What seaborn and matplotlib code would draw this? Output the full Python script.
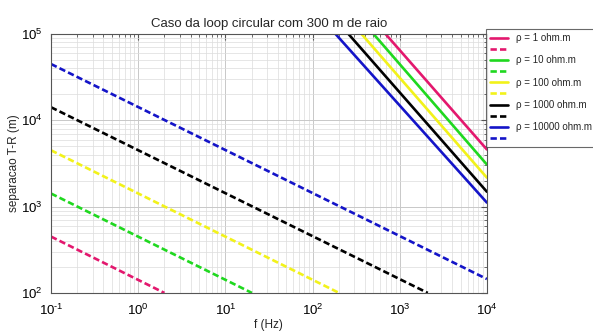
import matplotlib
matplotlib.use("Agg")
import matplotlib.pyplot as plt
from matplotlib.lines import Line2D
from matplotlib.ticker import LogLocator, FuncFormatter
import seaborn as sns
import pandas as pd
import numpy as np

# Resistivities and their colours
rho_labels = ["ρ = 1 ohm.m", "ρ = 10 ohm.m", "ρ = 100 ohm.m", "ρ = 1000 ohm.m", "ρ = 10000 ohm.m"]
palette = ["#e3186e", "#1fd81f", "#f2f21a", "#000000", "#1414c8"]

# Steep curves (endpoints, f in Hz, separation in m)
freq_steep = [[690, 10000], [502, 10000], [366, 10000], [259, 10000], [184, 10000]]
sep_steep = [[1e5, 4600], [1e5, 3080], [1e5, 2170], [1e5, 1490], [1e5, 1115]]

# Shallow curves
freq_shallow = [[0.1, 2.0], [0.1, 20.2], [0.1, 202], [0.1, 2100], [0.1, 10000]]
sep_shallow = [[450, 100], [1420, 100], [4500, 100], [14200, 100], [45000, 145]]

sns.set_style("white")
plt.rcParams["font.family"] = ["Liberation Sans", "DejaVu Sans"]
plt.rcParams["mathtext.fontset"] = "custom"
plt.rcParams["mathtext.rm"] = "Liberation Sans"
plt.rcParams["mathtext.it"] = "Liberation Sans"
plt.rcParams["mathtext.default"] = "regular"
plt.rcParams["axes.unicode_minus"] = False

fig = plt.figure(figsize=(5.93, 3.31), dpi=100)
ax = fig.add_axes([0.086, 0.115, 0.735, 0.782])

handles = []
labels = []
dash = (0, (2.4, 1.2))
for i, lab in enumerate(rho_labels):
    df_a = pd.DataFrame({"f": freq_steep[i], "s": sep_steep[i]})
    df_b = pd.DataFrame({"f": freq_shallow[i], "s": sep_shallow[i]})
    sns.lineplot(data=df_a, x="f", y="s", ax=ax, color=palette[i], lw=1.9,
                 sort=False, estimator=None)
    sns.lineplot(data=df_b, x="f", y="s", ax=ax, color=palette[i], lw=1.9,
                 linestyle=dash, sort=False, estimator=None)
    handles.append(Line2D([], [], color=palette[i], lw=1.9))
    labels.append(lab)
    handles.append(Line2D([], [], color=palette[i], lw=1.9, linestyle=dash))
    labels.append(" ")


def pow10(v, _pos):
    e = int(round(np.log10(v)))
    if e < 0:
        return r"$10^{\text{-}%d}$" % (-e)
    return r"$10^{%d}$" % e


ax.set_xscale("log")
ax.set_yscale("log")
ax.set_xlim(0.1, 1e4)
ax.set_ylim(1e2, 1e5)
ax.xaxis.set_major_locator(LogLocator(base=10, numticks=10))
ax.yaxis.set_major_locator(LogLocator(base=10, numticks=10))
ax.xaxis.set_major_formatter(FuncFormatter(pow10))
ax.yaxis.set_major_formatter(FuncFormatter(pow10))
ax.xaxis.set_minor_locator(LogLocator(base=10, subs=range(2, 10), numticks=20))
ax.yaxis.set_minor_locator(LogLocator(base=10, subs=range(2, 10), numticks=20))

ax.grid(True, which="major", color="#c8c8c8", lw=0.7)
ax.grid(True, which="minor", color="#dcdcdc", lw=0.5)
ax.set_axisbelow(True)
for sp in ax.spines.values():
    sp.set_color("#555555")
    sp.set_linewidth(0.8)
ax.tick_params(which="both", direction="in", top=True, right=True,
               colors="#555555", labelcolor="black", labelsize=9.5)
ax.tick_params(which="major", length=4)
ax.tick_params(which="minor", length=2)
ax.tick_params(axis="x", which="major", pad=7)
ax.tick_params(axis="y", which="major", pad=6)

ax.set_title("Caso da loop circular com 300 m de raio", fontsize=9.5, pad=5)
ax.set_xlabel("f (Hz)", fontsize=8.5, labelpad=1)
ax.set_ylabel("separacao T-R (m)", fontsize=8.5, labelpad=1)

leg = fig.legend(handles, labels, loc="upper left", bbox_to_anchor=(0.819, 0.912),
                 fontsize=7, handlelength=1.9, handletextpad=0.8,
                 labelspacing=0.12, borderpad=0.4, borderaxespad=0,
                 frameon=True, fancybox=False)
leg.get_frame().set_edgecolor("#444444")
leg.get_frame().set_linewidth(0.8)

fig.savefig("out.png", dpi=100)
